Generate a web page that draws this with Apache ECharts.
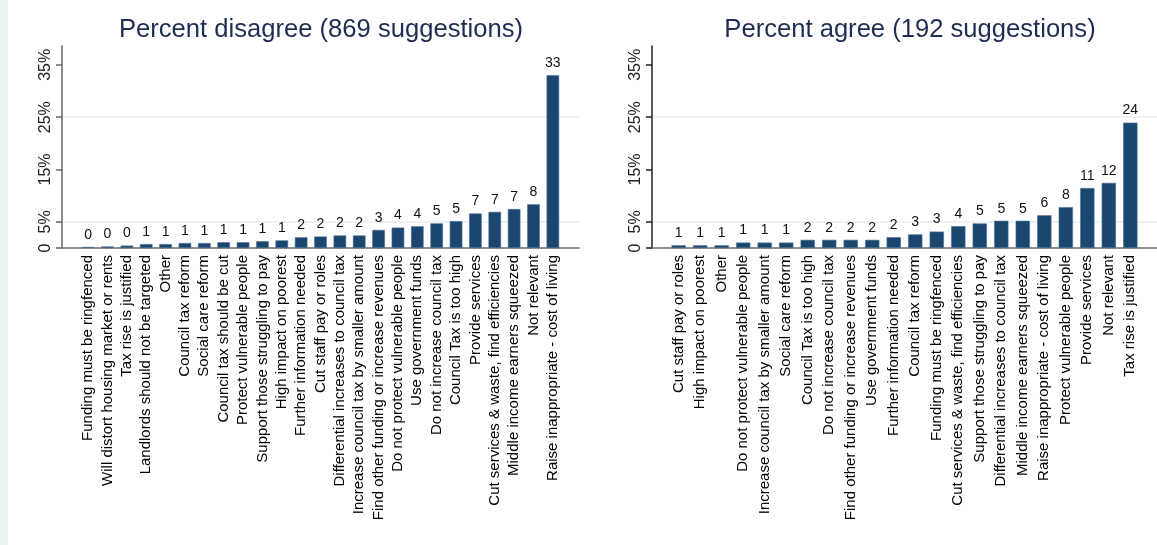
<!DOCTYPE html>
<html>
<head>
<meta charset="utf-8">
<script src="https://cdn.jsdelivr.net/npm/echarts@6/dist/echarts.min.js"></script>
<style>
  html, body { margin: 0; padding: 0; background: #ffffff; }
  #chart { width: 1157px; height: 545px; }
</style>
</head>
<body>
<div id="chart"></div>
<script>
// ---- Data ----
var disagreeTitle = 'Percent disagree (869 suggestions)';
var agreeTitle = 'Percent agree (192 suggestions)';

var disagreeCats = [
  'Funding must be ringfenced',
  'Will distort housing market or rents',
  'Tax rise is justified',
  'Landlords should not be targeted',
  'Other',
  'Council tax reform',
  'Social care reform',
  'Council tax should be cut',
  'Protect vulnerable people',
  'Support those struggling to pay',
  'High impact on poorest',
  'Further information needed',
  'Cut staff pay or roles',
  'Differential increases to council tax',
  'Increase council tax by smaller amount',
  'Find other funding or increase revenues',
  'Do not protect vulnerable people',
  'Use government funds',
  'Do not increase council tax',
  'Council Tax is too high',
  'Provide services',
  'Cut services & waste, find efficiencies',
  'Middle income earners squeezed',
  'Not relevant',
  'Raise inappropriate - cost of living'
];
var disagreeVals = [0.2, 0.3, 0.46, 0.75, 0.75, 0.95, 0.95, 1.1, 1.1, 1.3, 1.45, 2.05, 2.2, 2.4, 2.4,
                    3.45, 3.9, 4.15, 4.7, 5.15, 6.6, 6.9, 7.45, 8.35, 33.0];

var agreeCats = [
  'Cut staff pay or roles',
  'High impact on poorest',
  'Other',
  'Do not protect vulnerable people',
  'Increase council tax by smaller amount',
  'Social care reform',
  'Council Tax is too high',
  'Do not increase council tax',
  'Find other funding or increase revenues',
  'Use government funds',
  'Further information needed',
  'Council tax reform',
  'Funding must be ringfenced',
  'Cut services & waste, find efficiencies',
  'Support those struggling to pay',
  'Differential increases to council tax',
  'Middle income earners squeezed',
  'Raise inappropriate - cost of living',
  'Protect vulnerable people',
  'Provide services',
  'Not relevant',
  'Tax rise is justified'
];
var agreeVals = [0.52, 0.52, 0.52, 1.04, 1.04, 1.04, 1.56, 1.56, 1.56, 1.56, 2.08, 2.6, 3.13,
                 4.17, 4.69, 5.21, 5.21, 6.25, 7.81, 11.46, 12.45, 23.96];

var yTicks = [0, 5, 15, 25, 35];

// ---- Styles ----
var FONT = 'Liberation Sans, Arial, Helvetica, sans-serif';
var BAR = '#1a476f';
var GRID = '#e6eff1';

function idx(arr) { return arr.map(function (_, i) { return i; }); }
function pairs(arr) { return arr.map(function (v, i) { return [i, v]; }); }

function xAxisFor(cats, gi, lo, hi, lineColor) {
  return {
    type: 'value', gridIndex: gi, min: lo, max: hi,
    axisLine: { show: true, onZero: false, lineStyle: { color: lineColor, width: 1.5 } },
    axisTick: { show: false },
    splitLine: { show: false },
    axisLabel: {
      customValues: idx(cats),
      formatter: function (v) { return cats[Math.round(v)] || ''; },
      rotate: 90, fontSize: 15, color: '#000', margin: 7, fontFamily: FONT
    }
  };
}
function yAxisFor(gi, lineColor) {
  return {
    type: 'value', gridIndex: gi, min: 0, max: 38.6, interval: 5,
    axisLine: { show: true, onZero: false, lineStyle: { color: lineColor, width: 1.5 } },
    axisTick: { show: true, length: 6, customValues: yTicks, lineStyle: { color: lineColor, width: 1.5 } },
    axisLabel: {
      customValues: yTicks, rotate: 90, fontSize: 16, color: '#222', margin: 8, fontFamily: FONT,
      formatter: function (v) { return v === 0 ? '0' : v + '%'; }
    },
    splitLine: { show: true, lineStyle: { color: ['rgba(0,0,0,0)', GRID], width: 1.5 } }
  };
}
function barSeries(vals, gi, w) {
  return {
    type: 'bar', xAxisIndex: gi, yAxisIndex: gi,
    data: pairs(vals), barWidth: w,
    itemStyle: { color: BAR, borderColor: '#4f7192', borderWidth: 0.6 },
    label: {
      show: true, position: 'top', distance: 5, fontSize: 14, color: '#111', fontFamily: FONT,
      formatter: function (p) { return String(Math.round(p.value[1])); }
    },
    animation: false
  };
}

var chart = echarts.init(document.getElementById('chart'), null, { renderer: 'canvas' });
chart.setOption({
  backgroundColor: '#ffffff',
  animation: false,
  textStyle: { fontFamily: FONT },
  graphic: [{ type: 'rect', left: 0, top: 0, shape: { width: 8, height: 545 }, style: { fill: '#eaf2f3' }, silent: true }],
  title: [
    { text: disagreeTitle, left: 316, top: 12, textAlign: 'center',
      textStyle: { fontSize: 25.6, fontWeight: 'normal', color: '#1e2d52', fontFamily: FONT } },
    { text: agreeTitle, left: 905, top: 12, textAlign: 'center',
      textStyle: { fontSize: 25.6, fontWeight: 'normal', color: '#1e2d52', fontFamily: FONT } }
  ],
  grid: [
    { left: 62, right: 578, top: 46, bottom: 297, containLabel: false },
    { left: 652, right: -12, top: 46, bottom: 297, containLabel: false }
  ],
  xAxis: [
    xAxisFor(disagreeCats, 0, -1.35, disagreeCats.length - 1 + 1.35, '#6b6b6b'),
    xAxisFor(agreeCats, 1, -1.24, agreeCats.length - 1 + 1.24, '#6b6b6b')
  ],
  yAxis: [yAxisFor(0, '#666666'), yAxisFor(1, '#222222')],
  series: [barSeries(disagreeVals, 0, 12.6), barSeries(agreeVals, 1, 14.3)]
});
</script>
</body>
</html>
